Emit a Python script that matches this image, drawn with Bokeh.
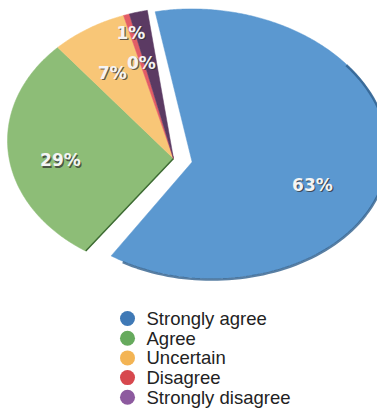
import numpy as np
from bokeh.plotting import figure
from bokeh.models import Range1d
from bokeh.core.properties import value
from bokeh.embed import file_html
from bokeh.resources import INLINE

# ---- data ----
categories = ["Strongly agree", "Agree", "Uncertain", "Disagree", "Strongly disagree"]
shares = [62.0, 29.5, 6.5, 0.5, 1.5]          # visual slice sizes
pct_labels = ["63%", "29%", "7%", "1%", "0%"]   # printed labels

# ---- styling / layout ----
pie_colors = ["#5b98d0", "#8dbd77", "#f8c677", "#e35d66", "#5b3a63"]
legend_colors = ["#3f79b6", "#66aa5d", "#f3b454", "#d7484e", "#8d5a9f"]
W, H = 377, 410
CX, CY, RX, RY = 183.0, 140.0, 176.0, 133.0     # ellipse of the pie
APEX = (173.0, 158.0)
START = 97.6                                    # degrees, slices go clockwise
EXPLODE = [23.0, 0, 0, 0, 0]
NEAR_STRETCH = [1.06, 1.0, 1.0, 1.0, 1.0]       # right side of exploded slice looks larger
LABEL_FRAC = [0.67, 0.69, 0.62, 0.84, 0.60]
LABEL_NUDGE = [(-4, 1), (0, 0), (-8, -5), (-3, -5), (-11, -8)]

au = (APEX[0] - CX) / RX
av = (APEX[1] - CY) / RY


def edge_point(theta_deg):
    th = np.radians(theta_deg)
    du, dv = np.cos(th), -np.sin(th)
    ad = au * du + av * dv
    t = -ad + np.sqrt(ad * ad - (au * au + av * av - 1.0))
    return CX + RX * (au + t * du), CY + RY * (av + t * dv)


def depth(y):
    # perspective: far (top) points move less than near (bottom) points
    return 0.35 + 0.85 * (y - 10.0) / 260.0


def place(q, ox, oy, k):
    x, y = q
    dx = x - APEX[0]
    if dx > 0:
        x = APEX[0] + dx * k
    return x + ox * depth(y), y + oy * depth(y)


p = figure(width=W, height=H, x_range=Range1d(0, W), y_range=Range1d(H, 0),
           output_backend="svg", toolbar_location=None, min_border=0)
p.axis.visible = False
p.grid.visible = False
p.outline_line_color = None
p.background_fill_color = "white"
p.border_fill_color = "white"

total = float(sum(shares))
ang = START
label_pts = []
for i, s in enumerate(shares):
    span = 360.0 * s / total
    a0, a1 = ang, ang - span
    mid = (a0 + a1) / 2
    thetas = np.linspace(a0, a1, max(4, int(span * 2)))
    pts = [APEX] + [edge_point(t) for t in thetas]
    mth = np.radians(mid)
    ox, oy = EXPLODE[i] * np.cos(mth), -EXPLODE[i] * np.sin(mth) * RY / RX
    k = NEAR_STRETCH[i]
    placed = [place(q, ox, oy, k) for q in pts]
    p.patch([q[0] for q in placed], [q[1] for q in placed],
            fill_color=pie_colors[i], line_color=pie_colors[i], line_width=0.5)
    if i == 0:
        rim = [place(edge_point(t), ox, oy, k) for t in np.linspace(40, a1 + 5, 80)]
        p.line([q[0] for q in rim], [q[1] + 1 for q in rim],
               line_color="#2f5f8c", line_width=2.5, line_alpha=0.8)
    if i == 1:
        b = edge_point(a0)
        p.line([APEX[0], b[0]], [APEX[1], b[1]], line_color="#3d6b33", line_width=1.5)
    e = place(edge_point(mid), ox, oy, k)
    bx, by = placed[0]
    f = LABEL_FRAC[i]
    lx = bx + f * (e[0] - bx) + LABEL_NUDGE[i][0]
    ly = by + f * (e[1] - by) + LABEL_NUDGE[i][1]
    label_pts.append((lx, ly))
    ang = a1

lx = [q[0] for q in label_pts]
ly = [q[1] for q in label_pts]
p.text(x=[v + 1.2 for v in lx], y=[v + 1.2 for v in ly], text=pct_labels,
       text_font=value("DejaVu Sans"), text_font_style="bold",
       text_font_size="17px", text_color="#333333", text_alpha=0.75,
       text_align="center", text_baseline="middle")
p.text(x=lx, y=ly, text=pct_labels,
       text_font=value("DejaVu Sans"), text_font_style="bold",
       text_font_size="17px", text_color="#f4f4f4",
       text_align="center", text_baseline="middle")

# legend
LEG_X, LEG_Y0, LEG_DY = 127.0, 318.0, 19.7
ly_leg = [LEG_Y0 + k * LEG_DY for k in range(len(categories))]
p.scatter(x=[LEG_X] * len(categories), y=ly_leg, size=15, marker="circle",
          fill_color=legend_colors, line_color=None)
p.text(x=[LEG_X + 19] * len(categories), y=ly_leg, text=categories,
       text_font=value("Liberation Sans"), text_font_size="18.5px",
       text_color="#222222", text_align="left", text_baseline="middle")

open("out.html", "w").write(file_html(p, INLINE))
